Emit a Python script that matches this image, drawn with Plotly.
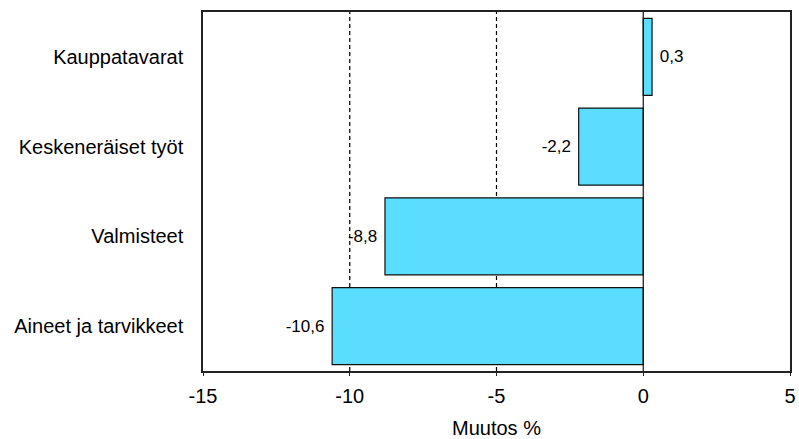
import plotly.graph_objects as go

categories = ["Kauppatavarat", "Keskeneräiset työt", "Valmisteet", "Aineet ja tarvikkeet"]
values = [0.3, -2.2, -8.8, -10.6]
tick_vals = [-15, -10, -5, 0, 5]
tick_labels = ["-15", "-10", "-5", "0", "5"]
axis_title = "Muutos %"

NBSP = "\u00a0"
labels = [(NBSP + f"{v:.1f}".replace(".", ",")) if v >= 0 else (f"{v:.1f}".replace(".", ",") + NBSP)
          for v in values]
FONT = "Liberation Sans, Arial, sans-serif"

fig = go.Figure()
fig.add_trace(go.Bar(
    y=categories, x=values, orientation="h",
    marker=dict(color="#5BDDFF", line=dict(color="#111111", width=1.2)),
    width=0.86,
    text=labels, textposition="outside", cliponaxis=False,
    textfont=dict(family=FONT, size=17, color="black"),
    hoverinfo="skip",
))

for gx in [-10, -5]:
    fig.add_shape(type="line", xref="x", yref="paper", x0=gx, x1=gx, y0=0, y1=1,
                  line=dict(color="black", width=1.2, dash="4px,3px"), layer="below")
fig.add_shape(type="line", xref="x", yref="paper", x0=0, x1=0, y0=0, y1=1,
              line=dict(color="#111111", width=1.2), layer="above")

fig.update_layout(
    width=799, height=439,
    margin=dict(l=203, r=9, t=12, b=68, autoexpand=False),
    plot_bgcolor="white", paper_bgcolor="white",
    showlegend=False,
    font=dict(family=FONT, size=20, color="black"),
    xaxis=dict(range=[-15, 5], tickvals=tick_vals, ticktext=tick_labels,
               showgrid=False, zeroline=False, showline=True, mirror=True,
               linecolor="#222222", linewidth=1.5, ticks="outside", ticklen=3,
               tickcolor="#222222", tickfont=dict(size=20), ticklabelstandoff=3,
               title=dict(text=axis_title, font=dict(size=20), standoff=16)),
    yaxis=dict(autorange="reversed", showgrid=False, zeroline=False, showline=True,
               mirror=True, linecolor="#222222", linewidth=1.5, ticks="",
               ticklabelstandoff=14, tickfont=dict(size=20)),
)

fig.write_html("out.html", config={"displayModeBar": False},
               post_script="document.body.style.margin='0';document.body.style.overflow='hidden';")
